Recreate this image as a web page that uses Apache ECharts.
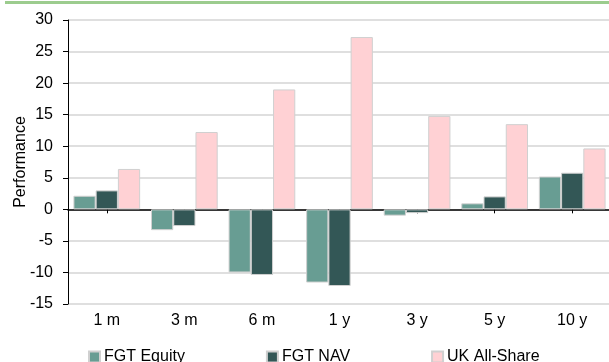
<!DOCTYPE html>
<html>
<head>
<meta charset="utf-8">
<script src="https://cdn.jsdelivr.net/npm/echarts@6/dist/echarts.min.js"></script>
<style>
  html, body { margin: 0; padding: 0; background: #fff; overflow: hidden; }
  #chart { width: 609px; height: 362px; }
</style>
</head>
<body>
<div id="chart"></div>
<script>
// Performance periods
const periods = ['1 m', '3 m', '6 m', '1 y', '3 y', '5 y', '10 y'];
// Returns (%) per period
const fgtEquity = [2.15, -3.3, -10.0, -11.6, -1.0, 0.95, 5.2];
const fgtNav = [3.0, -2.65, -10.4, -12.15, -0.6, 2.05, 5.8];
const ukAllShare = [6.4, 12.25, 19.0, 27.3, 14.8, 13.5, 9.65];
// Value axis range
const yMin = -15, yMax = 30, yStep = 5;

const FONT = '"Liberation Sans", Arial, sans-serif';

const chart = echarts.init(document.getElementById('chart'), null, { renderer: 'canvas' });

const barStyle = (color) => ({ color: color, borderColor: '#d0d0d0', borderWidth: 1 });

chart.setOption({
  animation: false,
  backgroundColor: '#ffffff',
  textStyle: { fontFamily: FONT },
  graphic: [{
    type: 'line',
    shape: { x1: 5, y1: 2.5, x2: 609, y2: 2.5 },
    style: { stroke: '#9ccc8e', lineWidth: 3 }
  }],
  grid: {
    left: 68, top: 20, width: 543, height: 284,
    containLabel: false, outerBoundsMode: 'none'
  },
  legend: {
    left: 83, top: 344,
    itemWidth: 11, itemHeight: 11, itemGap: 81,
    icon: 'rect',
    textStyle: { fontFamily: FONT, fontSize: 16, color: '#000', padding: [0, 0, 0, -1] },
    data: ['FGT Equity', 'FGT NAV', 'UK All-Share']
  },
  xAxis: [
    {
      // zero line with ticks at the period centres
      type: 'category', data: periods,
      axisLine: { onZero: true, lineStyle: { color: '#000', width: 1.5 } },
      axisTick: { show: true, alignWithLabel: true, length: 4, lineStyle: { color: '#000' } },
      axisLabel: { show: false },
      splitLine: { show: false }
    },
    {
      // period labels along the bottom of the plot
      type: 'category', data: periods, position: 'bottom',
      axisLine: { show: false, onZero: false },
      axisTick: { show: false },
      axisLabel: { show: true, margin: 9, fontFamily: FONT, fontSize: 16, color: '#000' },
      splitLine: { show: false }
    }
  ],
  yAxis: {
    type: 'value', min: yMin, max: yMax, interval: yStep,
    name: 'Performance', nameLocation: 'middle', nameRotate: 90, nameGap: 39,
    nameMoveOverlap: false,
    nameTextStyle: { fontFamily: FONT, fontSize: 16, color: '#000' },
    axisLine: { show: true, lineStyle: { color: '#000', width: 1 } },
    axisTick: { show: true, length: 5, lineStyle: { color: '#000' } },
    axisLabel: { margin: 15, fontFamily: FONT, fontSize: 16, color: '#000' },
    splitLine: { show: true, lineStyle: { color: '#d4d4d4', width: 1.5 } }
  },
  series: [
    {
      name: 'FGT Equity', type: 'bar', data: fgtEquity,
      barGap: '0%', barCategoryGap: '14%', itemStyle: barStyle('#689d93')
    },
    {
      name: 'FGT NAV', type: 'bar', data: fgtNav,
      barGap: '0%', barCategoryGap: '14%', itemStyle: barStyle('#335756')
    },
    {
      name: 'UK All-Share', type: 'bar', data: ukAllShare,
      barGap: '0%', barCategoryGap: '14%', itemStyle: barStyle('#ffd1d4')
    }
  ]
});
</script>
</body>
</html>
